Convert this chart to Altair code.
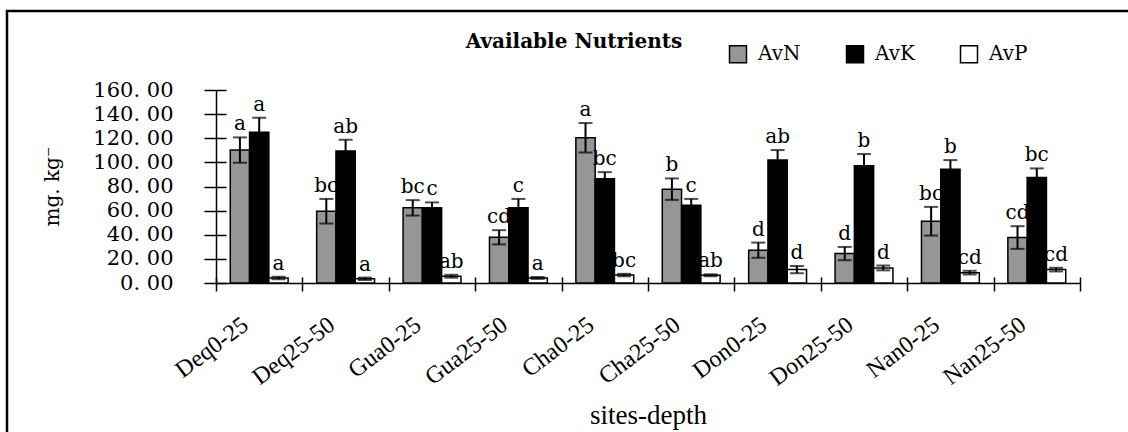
import altair as alt
import pandas as pd

sites = ["Deq0-25", "Deq25-50", "Gua0-25", "Gua25-50", "Cha0-25",
         "Cha25-50", "Don0-25", "Don25-50", "Nan0-25", "Nan25-50"]
nutrients = ["AvN", "AvK", "AvP"]
colors = ["#969696", "#000000", "#ffffff"]

avn = [110.2, 59.5, 62.3, 37.9, 120.4, 77.8, 27.2, 24.4, 51.2, 37.7]
avn_err = [10.5, 10.2, 6.4, 5.9, 12.2, 8.9, 6.3, 5.5, 11.9, 9.4]
avk = [124.9, 109.4, 62.3, 62.3, 86.4, 64.5, 101.9, 97.1, 94.4, 87.5]
avk_err = [12.1, 9.3, 4.5, 7.4, 5.5, 5.2, 8.3, 9.8, 7.5, 7.5]
avp = [4.2, 3.5, 5.6, 4.2, 6.6, 6.4, 11.1, 12.5, 8.6, 11.1]
avp_err = [1.0, 1.0, 1.2, 0.8, 1.0, 0.8, 3.0, 2.0, 1.5, 1.5]

avn_lab = ["a", "bc", "bc", "cd", "a", "b", "d", "d", "bc", "cd"]
avk_lab = ["a", "ab", "c", "c", "bc", "c", "ab", "b", "b", "bc"]
avp_lab = ["a", "a", "ab", "a", "bc", "ab", "d", "d", "cd", "cd"]

y_ticks = [0, 20, 40, 60, 80, 100, 120, 140, 160]

rows = []
for nut, vals, errs, labs in [("AvN", avn, avn_err, avn_lab),
                              ("AvK", avk, avk_err, avk_lab),
                              ("AvP", avp, avp_err, avp_lab)]:
    for s, v, e, l in zip(sites, vals, errs, labs):
        rows.append({"site": s, "nutrient": nut, "value": v,
                     "lo": v - e, "hi": v + e, "label": l})
df = pd.DataFrame(rows)

SERIF = "DejaVu Serif"
TIMES = "Liberation Serif"

yscale = alt.Scale(domain=[0, 160], nice=False, zero=True)
xscale = alt.Scale(paddingInner=0, paddingOuter=0)
xoff = alt.XOffset("nutrient:N", sort=nutrients,
                   scale=alt.Scale(paddingInner=0, paddingOuter=0.74))

main_x_axis = alt.Axis(
    title="sites-depth", titleFont=TIMES, titleFontSize=27, titleFontWeight="normal",
    titleColor="black", titleX=432, titleY=140, titleBaseline="alphabetic",
    labelFont=TIMES, labelFontSize=24, labelColor="black", labelAngle=323,
    labelAlign="right", labelBaseline="middle", labelPadding=31, labelOffset=-14,
    tickSize=8, tickWidth=1.5, tickColor="black", tickBand="extent",
    domainColor="black", domainWidth=1.5, labelOverlap=False)
main_y_axis = alt.Axis(
    title="mg. kg⁻", titleFont=SERIF, titleFontSize=20, titleFontWeight="normal",
    titleColor="black", titleAngle=270, titleX=-164, titleY=96,
    titleAlign="center", titleBaseline="middle",
    values=y_ticks, labelExpr="replace(format(datum.value, '.2f'), '.', '. ')",
    labelFont=SERIF, labelFontSize=21, labelColor="black", labelPadding=31,
    tickSize=12, tickWidth=1.5, tickColor="black",
    domainColor="black", domainWidth=1.5, grid=False)
sec_x_axis = alt.Axis(title=None, labels=False, domain=False, tickSize=6, offset=-6,
                      tickWidth=1.5, tickColor="black", tickBand="extent", orient="bottom")
sec_y_axis = alt.Axis(title=None, labels=False, domain=False, tickSize=10, offset=-10,
                      values=y_ticks, tickWidth=1.5, tickColor="black", orient="left", grid=False)

bars = alt.Chart(df).mark_bar(stroke="black", strokeWidth=1.5).encode(
    x=alt.X("site:N", sort=sites, scale=xscale, axis=main_x_axis),
    xOffset=xoff,
    y=alt.Y("value:Q", scale=yscale, axis=main_y_axis),
    color=alt.Color("nutrient:N", sort=nutrients,
                    scale=alt.Scale(domain=nutrients, range=colors),
                    legend=alt.Legend(orient="none", legendX=512, legendY=-46,
                                      direction="horizontal", title=None,
                                      symbolType="square", symbolSize=289,
                                      symbolStrokeColor="black", symbolStrokeWidth=1.5,
                                      labelFont=SERIF, labelFontSize=20, labelColor="black",
                                      labelOffset=10, columnPadding=42)),
)

rules = alt.Chart(df).mark_rule(color="black", strokeWidth=2).encode(
    x=alt.X("site:N", sort=sites, scale=xscale, axis=sec_x_axis),
    xOffset=xoff,
    y=alt.Y("lo:Q", scale=yscale, axis=sec_y_axis),
    y2="hi:Q",
)

cap_top = alt.Chart(df).mark_tick(color="black", thickness=2, size=14).encode(
    x=alt.X("site:N", sort=sites, scale=xscale, axis=None),
    xOffset=xoff,
    y=alt.Y("hi:Q", scale=yscale, axis=None),
)
cap_bot = alt.Chart(df).mark_tick(color="black", thickness=2, size=14).encode(
    x=alt.X("site:N", sort=sites, scale=xscale, axis=None),
    xOffset=xoff,
    y=alt.Y("lo:Q", scale=yscale, axis=None),
)

labels = alt.Chart(df).mark_text(font=SERIF, fontSize=20, color="black",
                                 baseline="bottom", dy=-3).encode(
    x=alt.X("site:N", sort=sites, scale=xscale, axis=None),
    xOffset=xoff,
    y=alt.Y("hi:Q", scale=yscale, axis=None),
    text="label:N",
)

title_df = pd.DataFrame({"t": ["Available Nutrients"]})
title = alt.Chart(title_df).mark_text(font=SERIF, fontSize=20, fontWeight="bold",
                                      color="black", align="center", baseline="middle").encode(
    x=alt.value(358), y=alt.value(-48), text="t:N")

frame = alt.Chart(title_df).mark_rect(fillOpacity=0, stroke="black", strokeWidth=2.5).encode(
    x=alt.value(-209), x2=alt.value(1100), y=alt.value(-79), y2=alt.value(400))

chart = alt.layer(frame, bars, rules, cap_top, cap_bot, labels, title).resolve_axis(
    x="independent", y="independent"
).properties(
    width=864, height=193,
    autosize=alt.AutoSizeParams(type="none"),
    padding={"left": 216, "top": 90, "right": 48, "bottom": 149},
    background="white",
).configure_view(stroke=None)

chart.save("out.html", embed_options={"renderer": "svg", "actions": False})
